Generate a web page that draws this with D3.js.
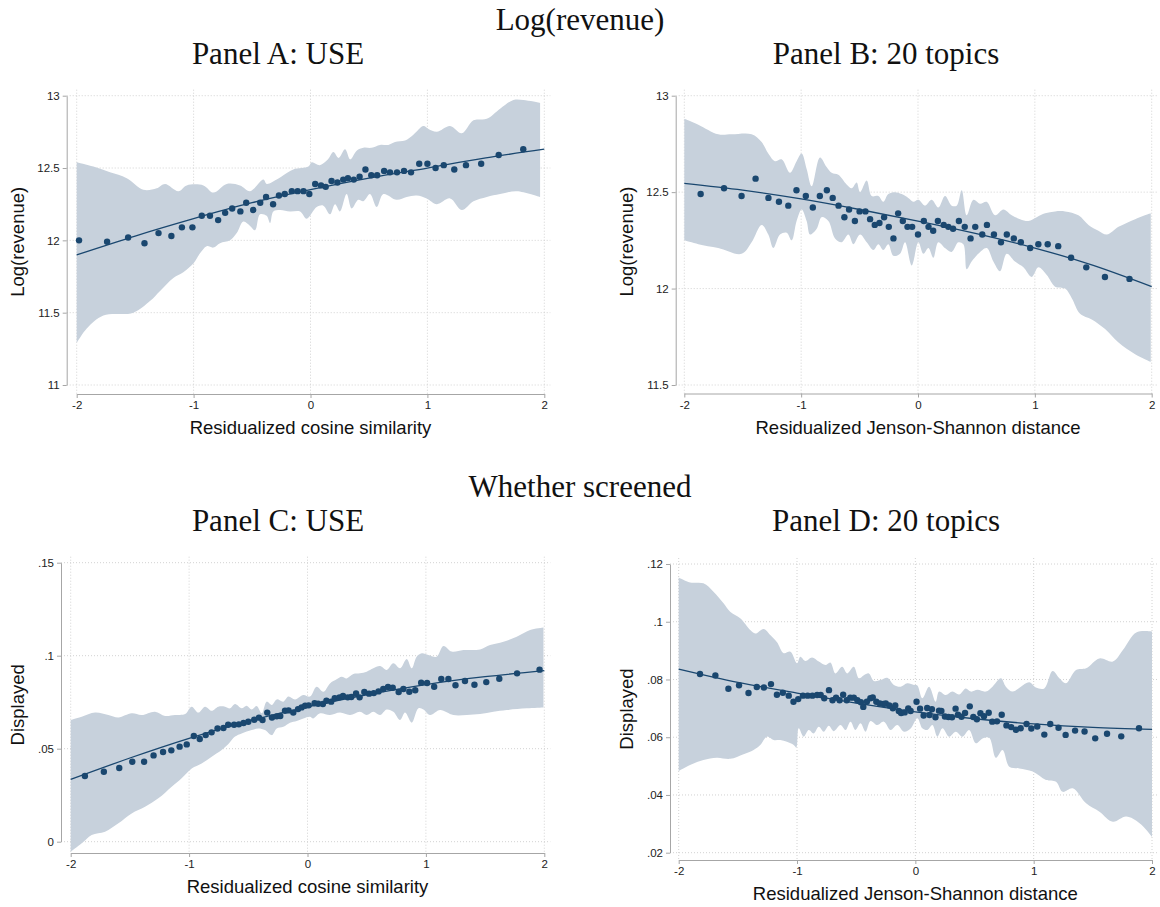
<!DOCTYPE html>
<html>
<head>
<meta charset="utf-8">
<script src="https://cdn.jsdelivr.net/npm/d3@7"></script>
<style>
body{margin:0;background:#fff;}
svg{display:block;}
.tick text{font-family:"Liberation Sans",Arial,sans-serif;font-size:11.5px;fill:#222;}
</style>
</head>
<body>
<script>
// shared ticks
var xTicks = [-2,-1,0,1,2];
var fitX = [-2,-1.5,-1,-0.5,0,0.5,1,1.5,2];

// Panel A: USE, log(revenue)
var aTicks = [11,11.5,12,12.5,13];
var aLabels = ["11","11.5","12","12.5","13"];
var aPts = [[-1.98,12.00],[-1.74,11.99],[-1.56,12.02],[-1.42,11.98],[-1.30,12.05],[-1.19,12.03],[-1.10,12.09],[-1.01,12.09],[-0.93,12.17],[-0.86,12.17],[-0.79,12.14],[-0.73,12.19],[-0.67,12.22],[-0.60,12.20],[-0.55,12.26],[-0.49,12.21],[-0.43,12.26],[-0.38,12.30],[-0.32,12.25],[-0.27,12.31],[-0.22,12.32],[-0.16,12.34],[-0.11,12.34],[-0.06,12.34],[-0.01,12.32],[0.04,12.39],[0.09,12.38],[0.13,12.37],[0.18,12.41],[0.23,12.40],[0.28,12.42],[0.32,12.43],[0.37,12.42],[0.42,12.44],[0.47,12.49],[0.52,12.45],[0.57,12.45],[0.63,12.48],[0.68,12.47],[0.74,12.47],[0.80,12.48],[0.86,12.47],[0.93,12.53],[1.00,12.53],[1.07,12.50],[1.14,12.52],[1.23,12.49],[1.33,12.52],[1.46,12.53],[1.61,12.59],[1.82,12.63]];
var aFit = [11.90,12.03,12.15,12.26,12.35,12.43,12.50,12.57,12.63];
var aHi = [[-2,12.54],[-1.857,12.51],[-1.715,12.47],[-1.572,12.43],[-1.43,12.35],[-1.316,12.36],[-1.244,12.39],[-1.13,12.34],[-1.059,12.38],[-0.916,12.38],[-0.831,12.33],[-0.717,12.39],[-0.603,12.38],[-0.517,12.34],[-0.403,12.42],[-0.375,12.39],[-0.289,12.42],[-0.232,12.45],[-0.147,12.49],[-0.018,12.51],[0.01,12.54],[0.08,12.52],[0.15,12.56],[0.196,12.61],[0.24,12.57],[0.296,12.63],[0.34,12.56],[0.395,12.62],[0.452,12.64],[0.523,12.64],[0.595,12.66],[0.666,12.66],[0.723,12.68],[0.809,12.69],[0.88,12.73],[0.966,12.79],[1.009,12.77],[1.08,12.75],[1.194,12.79],[1.294,12.74],[1.394,12.83],[1.508,12.84],[1.622,12.91],[1.736,12.97],[1.822,12.97],[1.964,12.95]];
var aLo = [[-2,11.29],[-1.914,11.39],[-1.772,11.48],[-1.515,11.50],[-1.373,11.58],[-1.287,11.65],[-1.173,11.74],[-1.088,11.78],[-1.002,11.84],[-0.945,11.91],[-0.888,11.96],[-0.831,11.95],[-0.774,11.98],[-0.688,12.0],[-0.631,12.05],[-0.574,12.13],[-0.517,12.10],[-0.474,12.07],[-0.432,12.18],[-0.375,12.17],[-0.346,12.12],[-0.318,12.20],[-0.261,12.21],[-0.175,12.20],[-0.089,12.20],[-0.033,12.15],[0.053,12.23],[0.110,12.24],[0.167,12.18],[0.210,12.25],[0.252,12.20],[0.309,12.32],[0.352,12.22],[0.409,12.28],[0.452,12.27],[0.509,12.32],[0.566,12.23],[0.623,12.32],[0.737,12.28],[0.823,12.30],[0.908,12.31],[0.994,12.29],[1.080,12.25],[1.194,12.29],[1.294,12.21],[1.394,12.27],[1.508,12.30],[1.622,12.32],[1.765,12.34],[1.964,12.30]];

// Panel B: 20 topics, log(revenue)
var bTicks = [11.5,12,12.5,13];
var bLabels = ["11.5","12","12.5","13"];
var bPts = [[-1.86,12.49],[-1.66,12.52],[-1.51,12.48],[-1.39,12.57],[-1.28,12.47],[-1.19,12.45],[-1.11,12.43],[-1.04,12.51],[-0.96,12.48],[-0.90,12.42],[-0.84,12.48],[-0.78,12.51],[-0.73,12.47],[-0.68,12.43],[-0.63,12.37],[-0.59,12.41],[-0.54,12.35],[-0.50,12.40],[-0.45,12.40],[-0.41,12.36],[-0.37,12.33],[-0.33,12.34],[-0.29,12.37],[-0.25,12.32],[-0.21,12.26],[-0.17,12.39],[-0.13,12.35],[-0.09,12.32],[-0.05,12.32],[0.00,12.28],[0.05,12.35],[0.09,12.32],[0.13,12.30],[0.17,12.35],[0.22,12.33],[0.26,12.32],[0.30,12.31],[0.35,12.35],[0.40,12.32],[0.45,12.26],[0.49,12.32],[0.55,12.28],[0.59,12.33],[0.65,12.28],[0.71,12.24],[0.76,12.28],[0.82,12.26],[0.88,12.24],[0.96,12.21],[1.03,12.23],[1.11,12.23],[1.20,12.22],[1.31,12.16],[1.44,12.11],[1.60,12.06],[1.81,12.05]];
var bFit = [12.545,12.51,12.465,12.41,12.35,12.285,12.21,12.12,12.01];
var bHi = [[-2,12.88],[-1.88,12.85],[-1.71,12.80],[-1.595,12.80],[-1.424,12.80],[-1.338,12.76],[-1.281,12.70],[-1.224,12.66],[-1.167,12.67],[-1.096,12.60],[-1.039,12.66],[-0.996,12.70],[-0.953,12.62],[-0.910,12.53],[-0.839,12.68],[-0.782,12.63],[-0.739,12.60],[-0.682,12.59],[-0.611,12.54],[-0.567,12.52],[-0.525,12.55],[-0.496,12.50],[-0.439,12.56],[-0.397,12.48],[-0.339,12.48],[-0.297,12.45],[-0.254,12.49],[-0.197,12.50],[-0.140,12.49],[-0.083,12.47],[-0.040,12.45],[0.003,12.46],[0.06,12.43],[0.117,12.46],[0.174,12.42],[0.231,12.48],[0.288,12.43],[0.331,12.43],[0.374,12.51],[0.417,12.38],[0.474,12.46],[0.531,12.44],[0.588,12.45],[0.659,12.38],[0.731,12.41],[0.802,12.38],[0.874,12.36],[0.945,12.35],[1.016,12.37],[1.088,12.39],[1.173,12.40],[1.259,12.40],[1.373,12.38],[1.459,12.33],[1.544,12.30],[1.616,12.28],[1.716,12.32],[1.858,12.36],[1.992,12.39]];
var bLo = [[-2,12.25],[-1.88,12.23],[-1.71,12.21],[-1.51,12.18],[-1.424,12.24],[-1.338,12.33],[-1.281,12.28],[-1.238,12.21],[-1.181,12.28],[-1.124,12.29],[-1.081,12.25],[-1.039,12.35],[-0.996,12.41],[-0.953,12.35],[-0.924,12.28],[-0.867,12.31],[-0.825,12.37],[-0.767,12.35],[-0.710,12.26],[-0.653,12.24],[-0.596,12.28],[-0.553,12.23],[-0.496,12.28],[-0.439,12.24],[-0.382,12.20],[-0.339,12.23],[-0.297,12.20],[-0.254,12.23],[-0.211,12.17],[-0.154,12.18],[-0.111,12.24],[-0.054,12.12],[0.003,12.24],[0.046,12.18],[0.089,12.21],[0.131,12.16],[0.174,12.24],[0.231,12.21],[0.288,12.19],[0.345,12.24],[0.388,12.23],[0.417,12.10],[0.459,12.14],[0.516,12.18],[0.588,12.21],[0.645,12.14],[0.702,12.09],[0.759,12.18],[0.830,12.14],[0.902,12.11],[0.973,12.06],[1.030,12.11],[1.102,12.07],[1.173,12.01],[1.259,12.00],[1.316,11.95],[1.387,11.87],[1.487,11.84],[1.601,11.79],[1.716,11.72],[1.858,11.66],[1.992,11.62]];

// Panel C: USE, whether screened
var cTicks = [0,0.05,0.1,0.15];
var cLabels = ["0",".05",".1",".15"];
var cPts = [[-1.88,.0353],[-1.72,.0376],[-1.59,.0396],[-1.48,.0430],[-1.38,.0430],[-1.30,.0464],[-1.22,.0482],[-1.15,.0491],[-1.08,.0511],[-1.02,.0523],[-0.96,.0568],[-0.91,.0552],[-0.86,.0573],[-0.81,.0588],[-0.76,.0609],[-0.71,.0611],[-0.67,.0629],[-0.62,.0629],[-0.58,.0631],[-0.54,.0638],[-0.50,.0645],[-0.45,.0656],[-0.41,.0667],[-0.38,.0654],[-0.34,.0694],[-0.30,.0668],[-0.26,.0674],[-0.23,.0676],[-0.19,.0704],[-0.16,.0706],[-0.12,.0694],[-0.08,.0713],[-0.05,.0722],[-0.02,.0731],[0.01,.0733],[0.06,.0744],[0.09,.0742],[0.13,.0740],[0.16,.0758],[0.20,.0753],[0.23,.0771],[0.27,.0776],[0.30,.0783],[0.34,.0776],[0.37,.0778],[0.41,.0797],[0.44,.0776],[0.48,.0805],[0.52,.0796],[0.56,.0799],[0.60,.0808],[0.64,.0821],[0.68,.0832],[0.72,.0828],[0.77,.0805],[0.81,.0821],[0.86,.0806],[0.91,.0814],[0.96,.0855],[1.01,.0853],[1.07,.0833],[1.13,.0875],[1.19,.0875],[1.25,.0841],[1.33,.0864],[1.41,.0844],[1.51,.0858],[1.62,.0876],[1.77,.0905],[1.96,.0925]];
var cFit = [.0335,.0450,.0556,.0648,.0725,.0790,.0845,.0887,.0920];
var cHi = [[-2,.0654],[-1.907,.0672],[-1.794,.0694],[-1.682,.0681],[-1.597,.0668],[-1.485,.0690],[-1.400,.0681],[-1.288,.0699],[-1.203,.0676],[-1.119,.0681],[-1.034,.0686],[-0.978,.0726],[-0.922,.0694],[-0.865,.0726],[-0.809,.0704],[-0.753,.0726],[-0.696,.0726],[-0.654,.0717],[-0.612,.0740],[-0.556,.0717],[-0.514,.0731],[-0.471,.0711],[-0.429,.0729],[-0.387,.0690],[-0.345,.0753],[-0.302,.0735],[-0.260,.0765],[-0.204,.0753],[-0.162,.0780],[-0.105,.0765],[-0.035,.0789],[0.021,.0780],[0.077,.0833],[0.134,.0806],[0.190,.0851],[0.246,.0873],[0.288,.0887],[0.331,.0878],[0.387,.0901],[0.443,.0905],[0.500,.0914],[0.556,.0932],[0.613,.0944],[0.669,.0923],[0.725,.0959],[0.782,.0932],[0.838,.0982],[0.880,.0932],[0.922,.0995],[0.965,.1013],[1.021,.1004],[1.091,.0995],[1.148,.1052],[1.218,.1022],[1.317,.1030],[1.458,.1034],[1.542,.1057],[1.655,.1075],[1.767,.1102],[1.880,.1138],[1.993,.1151]];
var cLo = [[-2,-.0054],[-1.907,-.0009],[-1.823,.0036],[-1.710,.0054],[-1.597,.0099],[-1.485,.0152],[-1.372,.0188],[-1.260,.0233],[-1.147,.0296],[-1.063,.0341],[-0.978,.0394],[-0.894,.0421],[-0.809,.0457],[-0.725,.0493],[-0.668,.0525],[-0.612,.0565],[-0.556,.0582],[-0.471,.0600],[-0.415,.0609],[-0.359,.0600],[-0.302,.0573],[-0.260,.0609],[-0.204,.0618],[-0.148,.0640],[-0.091,.0649],[-0.035,.0663],[0.021,.0672],[0.049,.0663],[0.106,.0690],[0.190,.0681],[0.275,.0694],[0.359,.0681],[0.443,.0699],[0.500,.0681],[0.556,.0699],[0.613,.0681],[0.669,.0711],[0.725,.0699],[0.782,.0654],[0.824,.0694],[0.880,.0640],[0.937,.0717],[0.979,.0711],[1.035,.0681],[1.120,.0708],[1.232,.0681],[1.345,.0681],[1.458,.0686],[1.570,.0699],[1.683,.0708],[1.852,.0717],[1.993,.0722]];

// Panel D: 20 topics, whether screened
var dTicks = [0.02,0.04,0.06,0.08,0.1,0.12];
var dLabels = [".02",".04",".06",".08",".1",".12"];
var dPts = [[-1.82,.0819],[-1.69,.0814],[-1.58,.0768],[-1.49,.0780],[-1.41,.0753],[-1.34,.0774],[-1.28,.0772],[-1.22,.0784],[-1.17,.0747],[-1.12,.0754],[-1.07,.0744],[-1.03,.0723],[-0.99,.0732],[-0.95,.0744],[-0.91,.0744],[-0.87,.0744],[-0.83,.0746],[-0.80,.0746],[-0.77,.0735],[-0.73,.0763],[-0.70,.0728],[-0.67,.0737],[-0.64,.0728],[-0.61,.0747],[-0.58,.0728],[-0.55,.0737],[-0.52,.0737],[-0.49,.0728],[-0.46,.0721],[-0.44,.0705],[-0.41,.0723],[-0.38,.0735],[-0.36,.0738],[-0.33,.0723],[-0.30,.0717],[-0.27,.0715],[-0.25,.0717],[-0.22,.0710],[-0.19,.0700],[-0.17,.0710],[-0.14,.0691],[-0.12,.0684],[-0.09,.0686],[-0.06,.0700],[-0.04,.0691],[0.01,.0723],[0.04,.0699],[0.07,.0675],[0.10,.0701],[0.12,.0677],[0.14,.0697],[0.17,.0669],[0.20,.0692],[0.22,.0691],[0.25,.0672],[0.28,.0670],[0.31,.0669],[0.34,.0699],[0.36,.0678],[0.39,.0671],[0.42,.0684],[0.46,.0707],[0.49,.0670],[0.52,.0662],[0.55,.0683],[0.58,.0673],[0.62,.0685],[0.65,.0654],[0.69,.0655],[0.73,.0678],[0.77,.0641],[0.81,.0635],[0.85,.0626],[0.89,.0631],[0.94,.0646],[0.98,.0630],[1.03,.0637],[1.09,.0609],[1.14,.0646],[1.21,.0633],[1.27,.0608],[1.35,.0623],[1.43,.0620],[1.52,.0596],[1.62,.0612],[1.74,.0603],[1.89,.0631]];
var dFit = [.0836,.0790,.0753,.0718,.0688,.0664,.0646,.0634,.0627];
var dHi = [[-2,.1153],[-1.904,.1136],[-1.791,.1133],[-1.706,.1104],[-1.621,.1064],[-1.565,.1035],[-1.480,.1012],[-1.395,.0971],[-1.353,.0959],[-1.282,.0975],[-1.226,.0954],[-1.169,.0929],[-1.113,.0891],[-1.056,.0896],[-1.0,.0856],[-0.972,.0879],[-0.929,.0864],[-0.873,.0876],[-0.816,.0862],[-0.760,.0850],[-0.718,.0859],[-0.675,.0821],[-0.619,.0844],[-0.576,.0821],[-0.520,.0844],[-0.477,.0804],[-0.435,.0815],[-0.393,.0821],[-0.350,.0795],[-0.294,.0798],[-0.237,.0806],[-0.181,.0781],[-0.124,.0775],[-0.068,.0787],[-0.011,.0781],[0.017,.0779],[0.059,.0735],[0.116,.0775],[0.172,.0723],[0.200,.0758],[0.257,.0746],[0.313,.0758],[0.370,.0748],[0.426,.0769],[0.469,.0758],[0.525,.0764],[0.596,.0758],[0.652,.0775],[0.723,.0804],[0.765,.0775],[0.822,.0758],[0.892,.0775],[0.963,.0790],[1.019,.0772],[1.090,.0769],[1.160,.0829],[1.217,.0804],[1.273,.0787],[1.358,.0833],[1.443,.0839],[1.556,.0873],[1.669,.0862],[1.754,.0902],[1.867,.0963],[2.0,.0966]];
var dLo = [[-2,.0483],[-1.904,.0504],[-1.791,.0521],[-1.678,.0529],[-1.565,.0525],[-1.452,.0541],[-1.367,.0556],[-1.311,.0573],[-1.254,.0602],[-1.198,.0590],[-1.141,.0590],[-1.085,.0584],[-1.028,.0573],[-1.006,.0564],[-0.986,.0631],[-0.944,.0602],[-0.901,.0625],[-0.859,.0613],[-0.816,.0636],[-0.774,.0619],[-0.732,.0640],[-0.689,.0621],[-0.633,.0642],[-0.590,.0625],[-0.548,.0654],[-0.506,.0625],[-0.463,.0648],[-0.421,.0619],[-0.379,.0656],[-0.322,.0642],[-0.266,.0654],[-0.209,.0625],[-0.153,.0642],[-0.096,.0619],[-0.040,.0630],[0.017,.0666],[0.059,.0631],[0.102,.0625],[0.144,.0642],[0.186,.0602],[0.229,.0631],[0.285,.0602],[0.342,.0619],[0.398,.0602],[0.455,.0625],[0.511,.0579],[0.568,.0596],[0.624,.0598],[0.681,.0529],[0.737,.0556],[0.794,.0498],[0.879,.0492],[0.992,.0481],[1.104,.0452],[1.189,.0446],[1.245,.0411],[1.330,.0423],[1.443,.0371],[1.556,.0342],[1.669,.0307],[1.782,.0325],[1.895,.0302],[2.0,.0255]];

var navy = "#1a476f", bandFill = "#c7d1dc", axisCol = "#a6a6a6", gridCol = "#d2d2d2";
var sans = "'Liberation Sans',Arial,sans-serif", serif = "'Liberation Serif','Times New Roman',serif";

var svg = d3.select("body").append("svg").attr("width",1160).attr("height",907);

// layout of each panel in pixels
var panels = [
  {ticks:aTicks, labels:aLabels, pts:aPts, fit:aFit, hi:aHi, lo:aLo, x0:76.7, x1:544.3, yb:385, yt:95.7, ax:66.7, axY:394, titleX:18, xTitle:"Residualized cosine similarity", yTitle:"Log(revenue)"},
  {ticks:bTicks, labels:bLabels, pts:bPts, fit:bFit, hi:bHi, lo:bLo, x0:684.3, x1:1151.7, yb:385, yt:95.7, ax:675.7, axY:393.5, titleX:627, xTitle:"Residualized Jenson-Shannon distance", yTitle:"Log(revenue)"},
  {ticks:cTicks, labels:cLabels, pts:cPts, fit:cFit, hi:cHi, lo:cLo, x0:70.7, x1:544.3, yb:841.7, yt:562.7, ax:61, axY:853, titleX:18, xTitle:"Residualized cosine similarity", yTitle:"Displayed"},
  {ticks:dTicks, labels:dLabels, pts:dPts, fit:dFit, hi:dHi, lo:dLo, x0:678.7, x1:1152, yb:852.7, yt:564, ax:670, axY:860, titleX:627, xTitle:"Residualized Jenson-Shannon distance", yTitle:"Displayed"}
];

panels.forEach(function(p){
  var x = d3.scaleLinear().domain([-2,2]).range([p.x0,p.x1]);
  var y = d3.scaleLinear().domain([p.ticks[0], p.ticks[p.ticks.length-1]]).range([p.yb,p.yt]);
  var g = svg.append("g");
  var top = p.yt - 6, right = p.x1 + 6;

  // dotted grid
  g.selectAll(".hg").data(p.ticks).enter().append("line")
    .attr("x1",p.ax).attr("x2",right)
    .attr("y1",function(d){return y(d);}).attr("y2",function(d){return y(d);})
    .attr("stroke",gridCol).attr("stroke-dasharray","1,2");
  g.selectAll(".vg").data(xTicks).enter().append("line")
    .attr("x1",function(d){return x(d);}).attr("x2",function(d){return x(d);})
    .attr("y1",top).attr("y2",p.axY)
    .attr("stroke",gridCol).attr("stroke-dasharray","1,2");

  // confidence band
  var edge = d3.line().x(function(d){return x(d[0]);}).y(function(d){return y(d[1]);}).curve(d3.curveCatmullRom);
  var up = edge(p.hi), dn = edge(p.lo.slice().reverse());
  g.append("path").attr("d", up + "L" + dn.substring(1) + "Z").attr("fill",bandFill);

  // fitted line
  var fitLine = d3.line().x(function(d,i){return x(fitX[i]);}).y(function(d){return y(d);}).curve(d3.curveNatural);
  g.append("path").datum(p.fit).attr("d",fitLine).attr("fill","none").attr("stroke",navy).attr("stroke-width",1.3);

  // binned points
  g.selectAll("circle").data(p.pts).enter().append("circle")
    .attr("cx",function(d){return x(d[0]);})
    .attr("cy",function(d){return y(d[1]);})
    .attr("r",3.2).attr("fill",navy);

  // axes
  var ya = g.append("g").attr("transform","translate("+p.ax+",0)")
    .call(d3.axisLeft(y).tickValues(p.ticks).tickFormat(function(d,i){return p.labels[i];}).tickSize(4).tickSizeOuter(0).tickPadding(3));
  var xa = g.append("g").attr("transform","translate(0,"+p.axY+")")
    .call(d3.axisBottom(x).tickValues(xTicks).tickFormat(function(d){return String(d);}).tickSize(4).tickSizeOuter(0).tickPadding(3));
  [ya,xa].forEach(function(a){
    a.select(".domain").attr("stroke",axisCol);
    a.selectAll(".tick line").attr("stroke",axisCol);
  });

  g.append("text").attr("x",(p.x0+p.x1)/2).attr("y",p.axY+40)
    .attr("text-anchor","middle").style("font-family",sans).style("font-size","18.5px").attr("fill","#111")
    .text(p.xTitle);
  g.append("text").attr("transform","translate("+p.titleX+","+((top+p.axY)/2)+") rotate(-90)")
    .attr("text-anchor","middle").attr("dy","0.35em").style("font-family",sans).style("font-size","18.5px").attr("fill","#111")
    .text(p.yTitle);
});

// titles
var titles = [
  {t:"Log(revenue)", x:580, y:30},
  {t:"Panel A: USE", x:278, y:64},
  {t:"Panel B: 20 topics", x:886, y:64},
  {t:"Whether screened", x:580, y:497},
  {t:"Panel C: USE", x:278, y:531},
  {t:"Panel D: 20 topics", x:886, y:531}
];
svg.selectAll(".title").data(titles).enter().append("text")
  .attr("x",function(d){return d.x;}).attr("y",function(d){return d.y;})
  .attr("text-anchor","middle").style("font-family",serif).style("font-size","31px").attr("fill","#111")
  .text(function(d){return d.t;});
</script>
</body>
</html>
